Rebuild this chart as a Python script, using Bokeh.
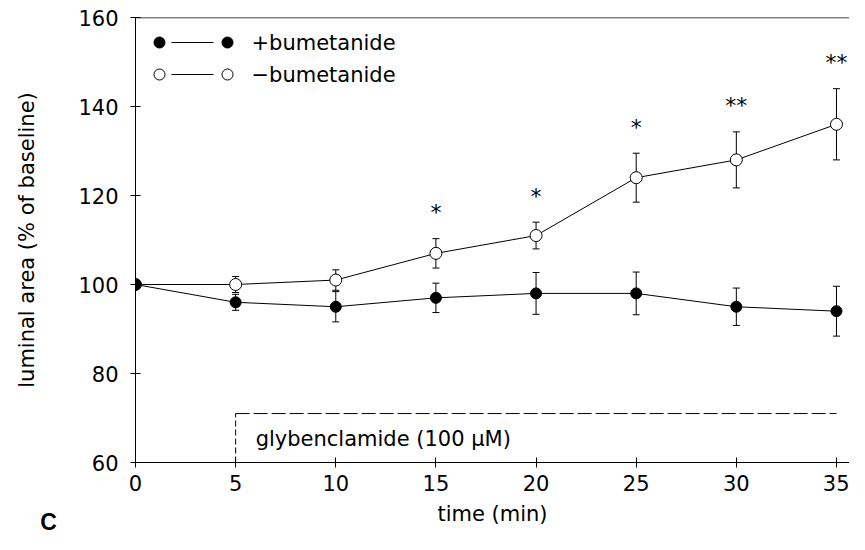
import math
from bokeh.plotting import figure
from bokeh.layouts import row
from bokeh.models import Range1d, FixedTicker, Span
from bokeh.core.properties import value
from bokeh.embed import file_html
from bokeh.resources import INLINE

# ---- data ----
time_min = [0, 5, 10, 15, 20, 25, 30, 35]
plus_bum = [100, 96, 95, 97, 98, 98, 95, 94]
plus_err = [0, 1.8, 3.4, 3.3, 4.7, 4.8, 4.2, 5.6]
minus_bum = [100, 100, 101, 107, 111, 124, 128, 136]
minus_err = [0, 1.8, 2.3, 3.3, 3.0, 5.5, 6.3, 8.0]
sig_time = [15, 20, 25, 30, 35]
sig_label = ["*", "*", "*", "**", "**"]
x_ticks = [0, 5, 10, 15, 20, 25, 30, 35]
y_ticks = [60, 80, 100, 120, 140, 160]
glyb_start, glyb_end, glyb_level = 5, 35, 71
glyb_text = "glybenclamide (100 \u03bcM)"
series_names = ["+bumetanide", "\u2212bumetanide"]
x_title = "time (min)"
y_title = "luminal area (% of baseline)"
panel_letter = "C"

FONT = "DejaVu Sans"
FS = "21px"

H = 534
WL = 60            # left strip holding y title and panel letter
W = 849 - WL
ML, MR, MT, MB = 75, 0, 17, 72

p = figure(width=W, height=H, output_backend="svg", toolbar_location=None,
           x_range=Range1d(0, 35.65), y_range=Range1d(60, 160),
           min_border_left=ML, min_border_right=MR, min_border_top=MT,
           min_border_bottom=MB)
p.frame_align = False
p.outline_line_color = None
p.grid.visible = False
p.background_fill_color = "white"
p.border_fill_color = "white"

for ax in (p.xaxis[0], p.yaxis[0]):
    ax.axis_line_color = "black"
    ax.axis_line_width = 1
    ax.major_tick_line_color = "black"
    ax.major_tick_in = 5
    ax.major_tick_out = 5
    ax.minor_tick_line_color = None
    ax.major_label_text_font = FONT
    ax.major_label_text_font_size = FS
    ax.major_label_text_color = "black"
    ax.axis_label_text_font = FONT
    ax.axis_label_text_font_size = FS
    ax.axis_label_text_font_style = "normal"
    ax.axis_label_text_color = "black"

p.xaxis.ticker = FixedTicker(ticks=x_ticks)
p.yaxis.ticker = FixedTicker(ticks=y_ticks)
p.xaxis.axis_label = x_title
p.xaxis.major_label_standoff = 7
p.xaxis.axis_label_standoff = 8
p.yaxis.major_label_standoff = 12

# top frame line
p.add_layout(Span(location=160, dimension="width", line_color="black", line_width=1.5))

# glybenclamide bracket
p.line(x=[glyb_start, glyb_end], y=[glyb_level, glyb_level], line_color="black",
       line_width=1, line_dash="14 4")
p.line(x=[glyb_start, glyb_start], y=[60, glyb_level], line_color="black",
       line_width=1, line_dash="6 3")
p.text(x=[glyb_start + 1], y=[(60 + glyb_level) / 2 - 0.2], text=[glyb_text],
       text_font=value(FONT), text_font_size=FS, text_baseline="middle",
       text_align="left", text_color="black")

cap = 7

def err_series(mean, err):
    lo = [m - e for m, e in zip(mean, err)]
    hi = [m + e for m, e in zip(mean, err)]
    p.segment(x0=time_min, y0=lo, x1=time_min, y1=hi, line_color="black", line_width=1)
    p.scatter(x=time_min, y=hi, marker="dash", size=cap, line_color="black", line_width=1)
    p.scatter(x=time_min, y=lo, marker="dash", size=cap, line_color="black", line_width=1)
    return hi

hi_minus = err_series(minus_bum, minus_err)
err_series(plus_bum, plus_err)

p.line(time_min, minus_bum, line_color="black", line_width=1)
p.line(time_min, plus_bum, line_color="black", line_width=1)

p.scatter(time_min, minus_bum, marker="circle", size=12, fill_color="white",
          line_color="black", line_width=1)
p.scatter(time_min, plus_bum, marker="circle", size=11, fill_color="black",
          line_color="black")

# significance stars above the upper error bar of the -bumetanide series
star_y = [hi_minus[time_min.index(t)] for t in sig_time]
p.text(x=sig_time, y=star_y, text=sig_label, text_font=value(FONT),
       text_font_size="22px", text_align="center", text_baseline="middle",
       y_offset=-26, text_color="black")

# legend in a pixel-based helper range (frame-relative)
fw = W - ML - MR
fh = H - MT - MB
p.extra_x_ranges = {"lx": Range1d(0, fw)}
p.extra_y_ranges = {"ly": Range1d(fh, 0)}
leg_rows = [25, 57]
leg_dot1, leg_line0, leg_line1, leg_dot2, leg_text = 24, 36, 78, 92, 116
for i, (name, r) in enumerate(zip(series_names, leg_rows)):
    p.line(x=[leg_line0, leg_line1], y=[r, r], line_color="black", line_width=1,
           x_range_name="lx", y_range_name="ly")
    p.scatter(x=[leg_dot1, leg_dot2], y=[r, r], marker="circle", size=11,
              fill_color="black" if i == 0 else "white", line_color="black", line_width=1,
              x_range_name="lx", y_range_name="ly")
    p.text(x=[leg_text], y=[r], text=[name], text_font=value(FONT), text_font_size=FS,
           text_baseline="middle", text_align="left", text_color="black",
           x_range_name="lx", y_range_name="ly")

# left strip: y-axis title and panel letter (pixel coordinates, top-down)
q = figure(width=WL, height=H, output_backend="svg", toolbar_location=None,
           x_range=Range1d(0, WL), y_range=Range1d(H, 0),
           x_axis_location=None, y_axis_location=None,
           min_border_left=0, min_border_right=0, min_border_top=0, min_border_bottom=0)
q.frame_align = False
q.outline_line_color = None
q.grid.visible = False
frame_mid = MT + fh / 2
q.text(x=[26], y=[frame_mid], text=[y_title], angle=math.pi / 2,
       text_font=value(FONT), text_font_size=FS, text_align="center",
       text_baseline="middle", text_color="black")
q.text(x=[48], y=[H - 13], text=[panel_letter], text_font=value("Liberation Sans"),
       text_font_style="bold", text_font_size="23px", text_align="center",
       text_baseline="middle", text_color="black")

layout = row(q, p, spacing=0)
open("out.html", "w").write(file_html(layout, INLINE))
